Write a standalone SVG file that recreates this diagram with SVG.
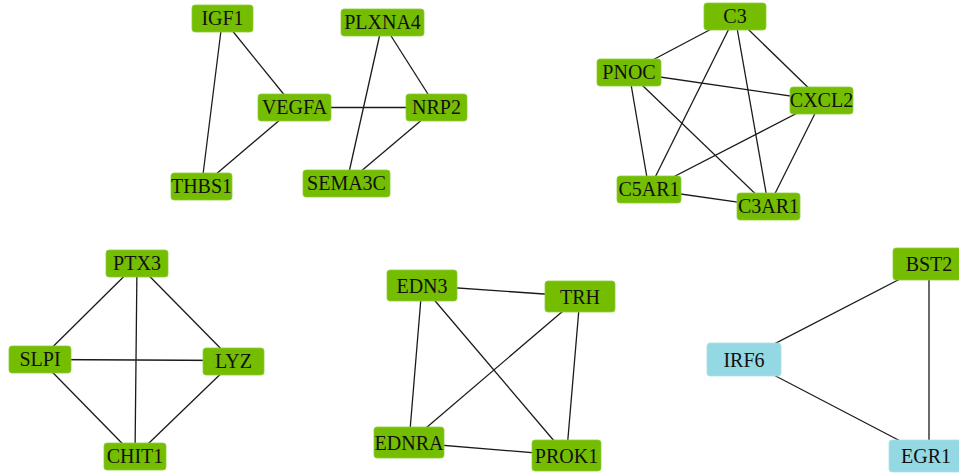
<svg xmlns="http://www.w3.org/2000/svg" width="959" height="473" viewBox="0 0 959 473">
<style>
.e{stroke:#1a1a1a;stroke-width:1.3;fill:none}
.g{fill:#74BD00;stroke:#8ccb3a;stroke-width:0.8}
.b{fill:#93D8E2;stroke:#a9e1e9;stroke-width:0.8}
text{font-family:"Liberation Serif","Times New Roman",serif;font-size:20px;fill:#111;text-anchor:middle}
</style>
<rect width="959" height="473" fill="#fff"/>
<g id="connectors">
<line class="e" x1="222.5" y1="18.5" x2="201.5" y2="186.5"/>
<line class="e" x1="222.5" y1="18.5" x2="294.5" y2="107.5"/>
<line class="e" x1="294.5" y1="107.5" x2="201.5" y2="186.5"/>
<line class="e" x1="294.5" y1="107.5" x2="436.5" y2="107.5"/>
<line class="e" x1="382.5" y1="22.5" x2="346.5" y2="183.5"/>
<line class="e" x1="382.5" y1="22.5" x2="436.5" y2="107.5"/>
<line class="e" x1="436.5" y1="107.5" x2="346.5" y2="183.5"/>
<line class="e" x1="735" y1="16.5" x2="629" y2="72.5"/>
<line class="e" x1="735" y1="16.5" x2="821.5" y2="100.5"/>
<line class="e" x1="735" y1="16.5" x2="649" y2="189.5"/>
<line class="e" x1="735" y1="16.5" x2="768.5" y2="206.5"/>
<line class="e" x1="629" y1="72.5" x2="821.5" y2="100.5"/>
<line class="e" x1="629" y1="72.5" x2="649" y2="189.5"/>
<line class="e" x1="629" y1="72.5" x2="768.5" y2="206.5"/>
<line class="e" x1="821.5" y1="100.5" x2="649" y2="189.5"/>
<line class="e" x1="821.5" y1="100.5" x2="768.5" y2="206.5"/>
<line class="e" x1="649" y1="189.5" x2="768.5" y2="206.5"/>
<line class="e" x1="137" y1="263.5" x2="40" y2="359.5"/>
<line class="e" x1="137" y1="263.5" x2="233.5" y2="361.5"/>
<line class="e" x1="137" y1="263.5" x2="135" y2="456.5"/>
<line class="e" x1="40" y1="359.5" x2="233.5" y2="360.5"/>
<line class="e" x1="40" y1="359.5" x2="135" y2="456.5"/>
<line class="e" x1="233.5" y1="361.5" x2="135" y2="456.5"/>
<line class="e" x1="422" y1="285.5" x2="580" y2="296.5"/>
<line class="e" x1="422" y1="285.5" x2="409" y2="442.5"/>
<line class="e" x1="422" y1="285.5" x2="566.5" y2="455.5"/>
<line class="e" x1="580" y1="296.5" x2="409" y2="442.5"/>
<line class="e" x1="580" y1="296.5" x2="566.5" y2="455.5"/>
<line class="e" x1="409" y1="442.5" x2="566.5" y2="455.5"/>
<line class="e" x1="929" y1="264" x2="744" y2="359.5"/>
<line class="e" x1="929" y1="264" x2="929" y2="456"/>
<line class="e" x1="744" y1="359.5" x2="929" y2="456"/>
</g>
<g id="IGF1"><rect class="g" x="192" y="5" width="61" height="27" rx="3"/><text x="222.5" y="25">IGF1</text></g>
<g id="PLXNA4"><rect class="g" x="341" y="9" width="83" height="27" rx="3"/><text x="382.5" y="29">PLXNA4</text></g>
<g id="VEGFA"><rect class="g" x="258" y="94" width="73" height="27" rx="3"/><text x="294.5" y="114">VEGFA</text></g>
<g id="NRP2"><rect class="g" x="406" y="94" width="61" height="27" rx="3"/><text x="436.5" y="114">NRP2</text></g>
<g id="THBS1"><rect class="g" x="171" y="173" width="61" height="27" rx="3"/><text x="201.5" y="193">THBS1</text></g>
<g id="SEMA3C"><rect class="g" x="303" y="170" width="87" height="27" rx="3"/><text x="346.5" y="190">SEMA3C</text></g>
<g id="C3"><rect class="g" x="704" y="3" width="62" height="27" rx="3"/><text x="735" y="23">C3</text></g>
<g id="PNOC"><rect class="g" x="597" y="59" width="64" height="27" rx="3"/><text x="629" y="79">PNOC</text></g>
<g id="CXCL2"><rect class="g" x="790" y="87" width="63" height="27" rx="3"/><text x="821.5" y="107">CXCL2</text></g>
<g id="C5AR1"><rect class="g" x="617" y="176" width="64" height="27" rx="3"/><text x="649" y="196">C5AR1</text></g>
<g id="C3AR1"><rect class="g" x="737" y="193" width="63" height="27" rx="3"/><text x="768.5" y="213">C3AR1</text></g>
<g id="PTX3"><rect class="g" x="106" y="250" width="62" height="27" rx="3"/><text x="137" y="270">PTX3</text></g>
<g id="SLPI"><rect class="g" x="9" y="346" width="62" height="27" rx="3"/><text x="40" y="366">SLPI</text></g>
<g id="LYZ"><rect class="g" x="203" y="348" width="61" height="27" rx="3"/><text x="233.5" y="368">LYZ</text></g>
<g id="CHIT1"><rect class="g" x="104" y="443" width="62" height="27" rx="3"/><text x="135" y="463">CHIT1</text></g>
<g id="EDN3"><rect class="g" x="387" y="270" width="70" height="31" rx="3"/><text x="422" y="292.5">EDN3</text></g>
<g id="TRH"><rect class="g" x="545" y="281" width="70" height="31" rx="3"/><text x="580" y="303.5">TRH</text></g>
<g id="EDNRA"><rect class="g" x="374" y="427" width="70" height="31" rx="3"/><text x="409" y="449.5">EDNRA</text></g>
<g id="PROK1"><rect class="g" x="532" y="440" width="69" height="31" rx="3"/><text x="566.5" y="462.5">PROK1</text></g>
<g id="BST2"><rect class="g" x="893" y="248" width="72" height="32" rx="3"/><text x="929" y="271">BST2</text></g>
<g id="IRF6"><rect class="b" x="707" y="343" width="74" height="33" rx="3"/><text x="744" y="366.5">IRF6</text></g>
<g id="EGR1"><rect class="b" x="889" y="440" width="80" height="32" rx="3"/><text x="926" y="463">EGR1</text></g>
</svg>
